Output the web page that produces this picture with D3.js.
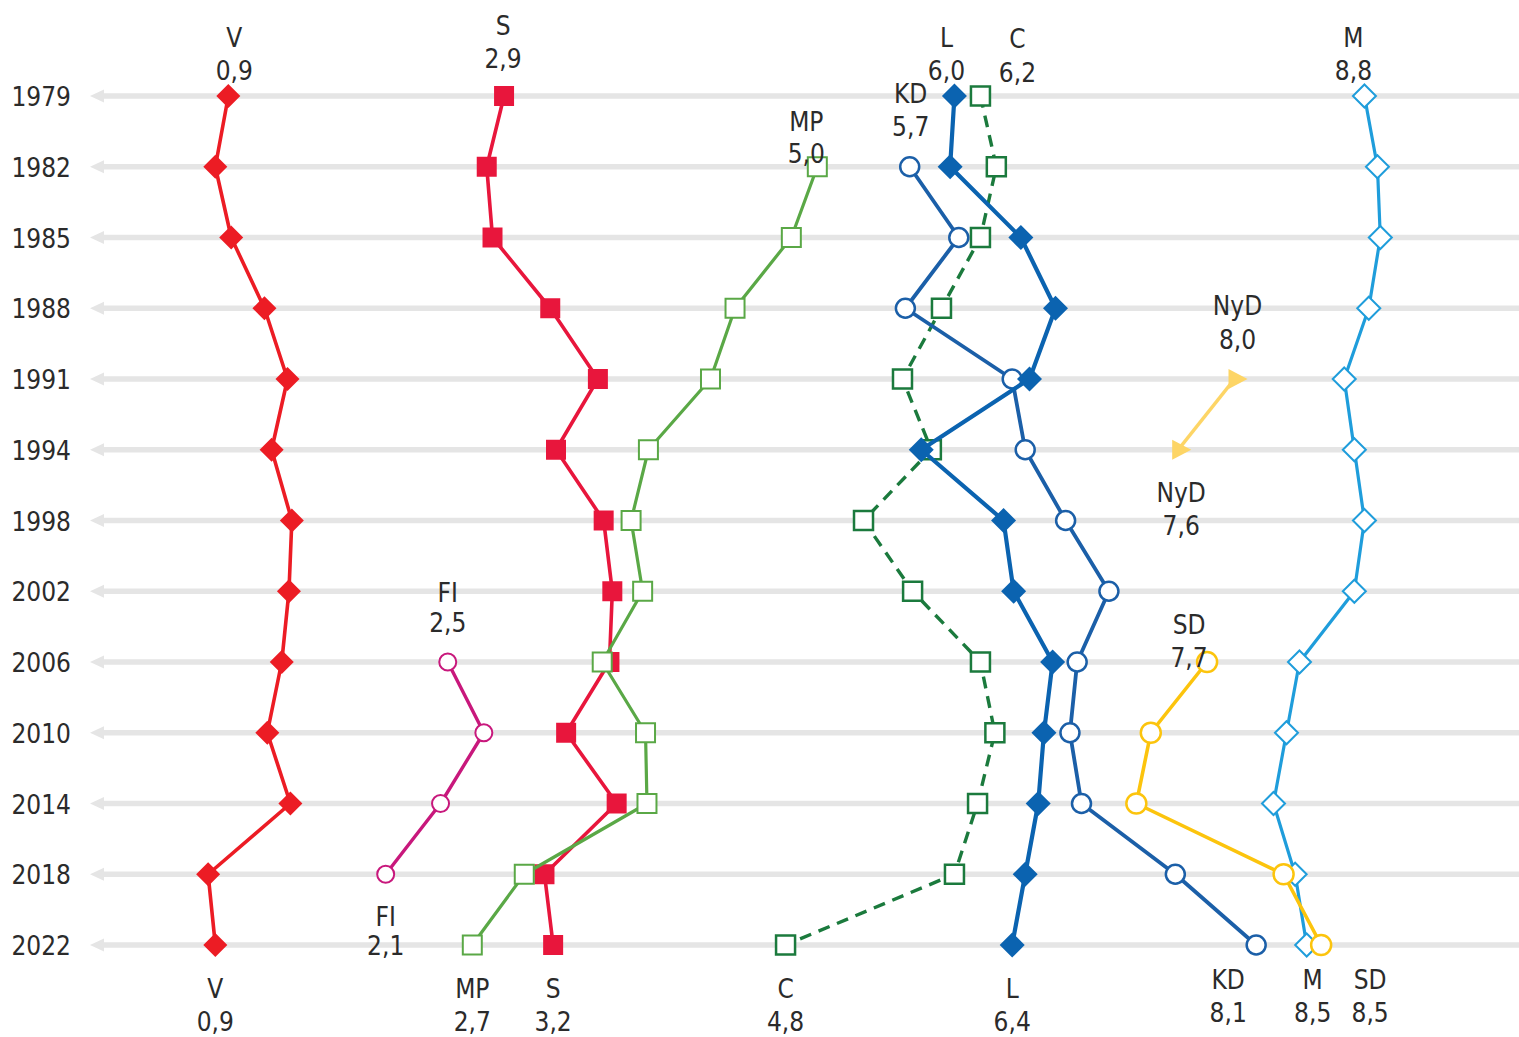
<!DOCTYPE html>
<html><head><meta charset="utf-8">
<script src="https://cdn.jsdelivr.net/npm/d3@7"></script>
<style>
body{margin:0;background:#fff}
text{font-family:"Liberation Sans Narrow","DejaVu Sans Condensed","Arial Narrow",sans-serif;fill:#2b2b2b}
</style>
</head><body>
<svg id="chart" width="1519" height="1037"></svg>
<script>
// ---------- data ----------
const years = ["1979","1982","1985","1988","1991","1994","1998","2002","2006","2010","2014","2018","2022"];
const V   = [0.97,0.88,0.99,1.22,1.38,1.27,1.41,1.39,1.34,1.24,1.40,0.83,0.88];
const S   = [2.88,2.76,2.80,3.20,3.53,3.24,3.57,3.63,3.61,3.31,3.66,3.16,3.22];
const MP  = [null,5.05,4.87,4.48,4.31,3.88,3.76,3.84,3.56,3.86,3.87,3.02,2.66];
const FI  = [null,null,null,null,null,null,null,null,2.49,2.74,2.44,2.06,null];
const C   = [6.18,6.29,6.18,5.91,5.64,5.84,5.37,5.71,6.18,6.28,6.16,6.00,4.83];
const KD  = [null,5.69,6.03,5.66,6.40,6.49,6.77,7.07,6.85,6.80,6.88,7.53,8.09];
const L   = [6.00,5.97,6.46,6.70,6.52,5.77,6.34,6.41,6.68,6.62,6.58,6.49,6.40];
const M   = [8.84,8.93,8.95,8.87,8.70,8.77,8.84,8.77,8.39,8.30,8.21,8.36,8.44];
const SD  = [null,null,null,null,null,null,null,null,7.75,7.36,7.26,8.28,8.54];
const NyD = [null,null,null,null,7.94,7.55,null,null,null,null,null,null,null];

// label annotations: party, year, printed value
const labelParty = ["V","S","MP","KD","L","C","M","NyD","NyD","FI","SD","V","FI","MP","S","C","L","KD","M","SD"];
const labelYear  = ["1979","1979","1982","1982","1979","1979","1979","1991","1994","2006","2006","2022","2018","2022","2022","2022","2022","2022","2022","2022"];
const labelValue = ["0,9","2,9","5,0","5,7","6,0","6,2","8,8","8,0","7,6","2,5","7,7","0,9","2,1","2,7","3,2","4,8","6,4","8,1","8,5","8,5"];

// ---------- styles ----------
const seriesData = {V,S,MP,FI,C,KD,L,M,SD,NyD};
const styles = {
  S:  {color:"#e8163c", marker:"square",  filled:true,  size:10,  lw:3.6},
  V:  {color:"#ec1c24", marker:"diamond", filled:true,  size:12,  lw:3.6},
  FI: {color:"#c8187c", marker:"circle",  filled:false, size:8.5, lw:3.4, sw:2},
  MP: {color:"#5aa846", marker:"square",  filled:false, size:9.5, lw:3.2, sw:2},
  C:  {color:"#1b7a3d", marker:"square",  filled:false, size:9.5, lw:3.4, sw:2.5, dash:"12,8"},
  KD: {color:"#1b5fa8", marker:"circle",  filled:false, size:9.5, lw:3.8, sw:2.5},
  L:  {color:"#0b63b0", marker:"diamond", filled:true,  size:12.5,lw:4.2},
  M:  {color:"#1f9ddb", marker:"diamond", filled:false, size:11.5,lw:3.2, sw:2},
  SD: {color:"#fcc40d", marker:"circle",  filled:false, size:10,  lw:3.6, sw:2.5},
  NyD:{color:"#fdd566", marker:"triangle",filled:true,  size:10,  lw:3.6}
};
const drawOrder = ["S","V","FI","MP","C","KD","L","M","SD","NyD"];

// label offsets (dx, name baseline dy, value baseline dy) relative to the point
const labelOffsets = {
  "V1979":[6,-49,-16], "S1979":[-1,-61,-28], "MP1982":[-11,-36,-4], "KD1982":[1,-64,-31],
  "L1979":[-8,-49,-16], "C1979":[37,-48,-14], "M1979":[-11,-49,-16],
  "NyD1991":[3,-64,-30], "NyD1994":[3,52,85], "FI2006":[0,-60,-30], "SD2006":[-18,-28,5],
  "V2022":[0,53,86], "FI2018":[0,52,81], "MP2022":[0,53,86], "S2022":[0,53,86], "C2022":[0,53,86],
  "L2022":[0,53,86], "KD2022":[-28,44,77], "M2022":[6,44,77], "SD2022":[49,44,77]
};

// ---------- scales ----------
const svg = d3.select("#chart");
const x = d3.scaleLinear().domain([0,10]).range([88.3,1531.9]);
const y = d3.scalePoint().domain(years).range([96,945]);

// gridlines with left arrows
const grid = svg.append("g");
years.forEach(yr=>{
  const yy = y(yr);
  grid.append("line").attr("x1",102).attr("x2",1519).attr("y1",yy).attr("y2",yy)
    .attr("stroke","#e5e5e5").attr("stroke-width",5.5);
  grid.append("path").attr("d",`M90,${yy} L104,${yy-6.5} L104,${yy+6.5} Z`).attr("fill","#e5e5e5");
});

// year labels
svg.append("g").selectAll("text").data(years).join("text")
  .attr("x",71).attr("y",d=>y(d)+10).attr("text-anchor","end")
  .attr("font-size",26).text(d=>d);

function markerPath(type,r){
  if(type==="diamond") return `M0,${-r}L${r},0L0,${r}L${-r},0Z`;
  if(type==="square") return `M${-r},${-r}H${r}V${r}H${-r}Z`;
  if(type==="triangle") return `M${-0.6*r},${-r}L${1.3*r},0L${-0.6*r},${r}Z`;
  return null;
}

const line = d3.line().defined(d=>d.v!=null).x(d=>x(d.v)).y(d=>y(d.yr));

drawOrder.forEach(k=>{
  const st = styles[k];
  const pts = years.map((yr,i)=>({yr, v:seriesData[k][i]}));
  const g = svg.append("g");
  g.append("path").datum(pts).attr("d",line).attr("fill","none")
    .attr("stroke",st.color).attr("stroke-width",st.lw)
    .attr("stroke-dasharray",st.dash||null).attr("stroke-linejoin","round");
  const valid = pts.filter(d=>d.v!=null);
  if(st.marker==="circle"){
    g.selectAll("circle").data(valid).join("circle")
      .attr("cx",d=>x(d.v)).attr("cy",d=>y(d.yr)).attr("r",st.size)
      .attr("fill",st.filled?st.color:"#fff").attr("stroke",st.color).attr("stroke-width",st.sw||0);
  } else {
    g.selectAll("path.m").data(valid).join("path").attr("class","m")
      .attr("transform",d=>`translate(${x(d.v)},${y(d.yr)})`)
      .attr("d",markerPath(st.marker,st.size))
      .attr("fill",st.filled?st.color:"#fff")
      .attr("stroke",st.filled?"none":st.color).attr("stroke-width",st.sw||0);
  }
});

// labels
const lg = svg.append("g");
labelParty.forEach((p,i)=>{
  const yr = labelYear[i];
  const v = seriesData[p][years.indexOf(yr)];
  const off = labelOffsets[p+yr];
  const cx = x(v)+off[0], cy = y(yr);
  lg.append("text").attr("x",cx).attr("y",cy+off[1]).attr("text-anchor","middle")
    .attr("font-size",26).text(p);
  lg.append("text").attr("x",cx).attr("y",cy+off[2]).attr("text-anchor","middle")
    .attr("font-size",26).text(labelValue[i]);
});
</script>
</body></html>
